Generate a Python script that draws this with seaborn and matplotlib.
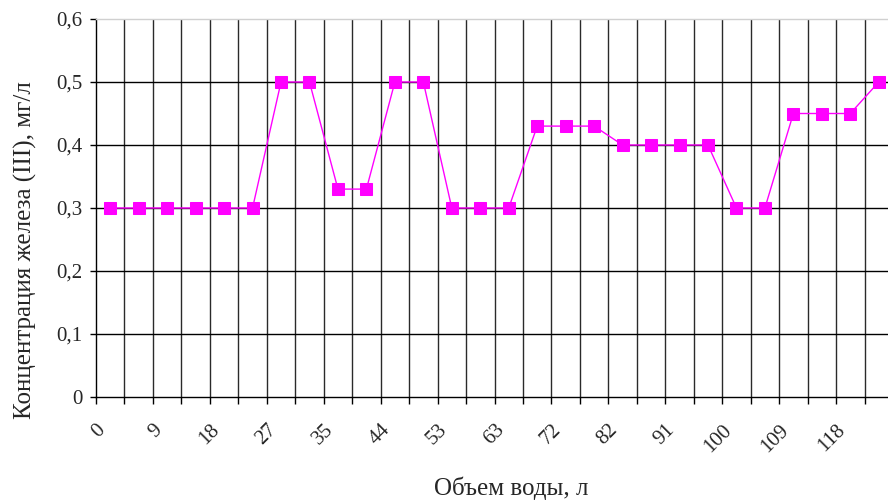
import numpy as np
import pandas as pd
import matplotlib
matplotlib.use("Agg")
import matplotlib.pyplot as plt
import seaborn as sns

# Iron (III) concentration, mg/l, for each sampled portion of water
iron = [0.30, 0.30, 0.30, 0.30, 0.30, 0.30, 0.50, 0.50, 0.33, 0.33,
        0.50, 0.50, 0.30, 0.30, 0.30, 0.43, 0.43, 0.43, 0.40, 0.40,
        0.40, 0.40, 0.30, 0.30, 0.45, 0.45, 0.45, 0.50]

# Water volume labels, one at every other category boundary
volume_labels = ["0", "9", "18", "27", "35", "44", "53", "63", "72",
                 "82", "91", "100", "109", "118"]

y_ticks = [0.0, 0.1, 0.2, 0.3, 0.4, 0.5, 0.6]
y_tick_labels = ["0", "0,1", "0,2", "0,3", "0,4", "0,5", "0,6"]

sns.set_style("white")
plt.rcParams["font.family"] = ["Liberation Serif", "DejaVu Serif"]

df = pd.DataFrame({"sample": np.arange(len(iron)), "iron": iron})

fig = plt.figure(figsize=(8.88, 5.01), dpi=100)
W, H = 888, 501
left, right, top, bottom = 96, 893, 19, 397
ax = fig.add_axes([left / W, 1 - bottom / H, (right - left) / W, (bottom - top) / H])

sns.lineplot(data=df, x="sample", y="iron", ax=ax, color="#FF00FF",
             linewidth=1.0, marker="s", markersize=8.5,
             markeredgecolor="#FF00FF", markerfacecolor="#FF00FF", zorder=3)

n = len(iron)
bounds = np.arange(n + 1) - 0.5
ax.set_xlim(bounds[0], bounds[-1])
ax.set_ylim(0, 0.6)

# grid: vertical lines on every category boundary, horizontal every 0.1
for b in bounds[1:]:
    ax.axvline(b, color="#2a2a2a", linewidth=1.0, zorder=1)
for yv in y_ticks[1:-1]:
    ax.axhline(yv, color="black", linewidth=1.0, zorder=1)

ax.set_xticks(bounds)
xlabels = [""] * len(bounds)
for i, lab in enumerate(volume_labels):
    xlabels[2 * i] = lab
ax.set_xticklabels(xlabels, rotation=45, ha="right", va="top",
                   rotation_mode="anchor", fontsize=15)

ax.set_yticks(y_ticks)
ax.set_yticklabels(y_tick_labels, fontsize=15)

ax.tick_params(axis="x", direction="out", length=5, width=1, color="black",
               pad=12, bottom=True)
ax.tick_params(axis="y", direction="out", length=4, width=1, color="black",
               pad=5.5, left=True)

for side in ["left", "bottom"]:
    ax.spines[side].set_color("black")
    ax.spines[side].set_linewidth(1.0)
ax.spines["top"].set_color("#d0d0d0")
ax.spines["top"].set_linewidth(1.0)
ax.spines["right"].set_visible(False)

ax.set_xlabel("")
ax.set_ylabel("")
fig.text(511 / W, 1 - 488 / H, "Объем воды, л", fontsize=18,
         ha="center", va="center")
fig.text(25 / W, 1 - 250 / H, "Концентрация железа (III), мг/л", fontsize=18,
         ha="center", va="center", rotation=90)

fig.savefig("out.png", dpi=100)
